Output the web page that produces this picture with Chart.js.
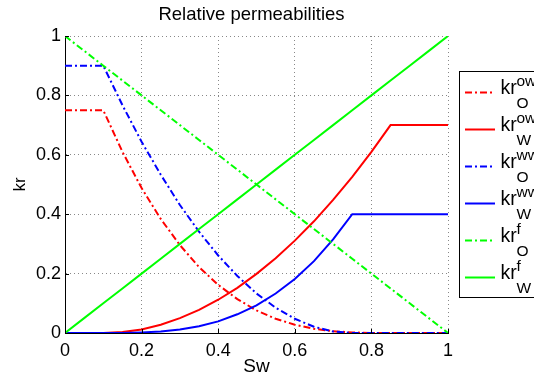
<!DOCTYPE html>
<html>
<head>
<meta charset="utf-8">
<script src="https://cdn.jsdelivr.net/npm/chart.js@4/dist/chart.umd.min.js"></script>
<style>
  html, body { margin: 0; padding: 0; background: #fff; }
  #wrap { width: 534px; height: 381px; }
</style>
</head>
<body>
<div id="wrap"><canvas id="relperm"></canvas></div>
<script>
// water saturation samples
const sw = [0, 0.05, 0.1, 0.15, 0.2, 0.25, 0.3, 0.35, 0.4, 0.45, 0.5,
            0.55, 0.6, 0.65, 0.7, 0.75, 0.8, 0.85, 0.9, 0.95, 1];

// oil-wet
const kroOW = [0.75, 0.75, 0.75, 0.61, 0.488, 0.384, 0.296, 0.222, 0.162, 0.114, 0.076,
               0.048, 0.028, 0.014, 0.006, 0.002, 0, 0, 0, 0, 0];
const krwOW = [0, 0, 0, 0.003, 0.012, 0.028, 0.05, 0.078, 0.112, 0.152, 0.199,
               0.252, 0.311, 0.376, 0.448, 0.526, 0.61, 0.7, 0.7, 0.7, 0.7];
// water-wet
const kroWW = [0.9, 0.9, 0.9, 0.767, 0.644, 0.533, 0.431, 0.341, 0.261, 0.192, 0.133,
               0.085, 0.048, 0.021, 0.005, 0, 0, 0, 0, 0, 0];
const krwWW = [0, 0, 0, 0, 0.002, 0.005, 0.012, 0.023, 0.039, 0.063, 0.093,
               0.133, 0.182, 0.242, 0.315, 0.4, 0.4, 0.4, 0.4, 0.4, 0.4];
// fracture
const kroF = [1, 0.95, 0.9, 0.85, 0.8, 0.75, 0.7, 0.65, 0.6, 0.55, 0.5,
              0.45, 0.4, 0.35, 0.3, 0.25, 0.2, 0.15, 0.1, 0.05, 0];
const krwF = [0, 0.05, 0.1, 0.15, 0.2, 0.25, 0.3, 0.35, 0.4, 0.45, 0.5,
              0.55, 0.6, 0.65, 0.7, 0.75, 0.8, 0.85, 0.9, 0.95, 1];

const legendSup = ['ow', 'ow', 'ww', 'ww', 'f', 'f'];
const legendSub = ['O', 'W', 'O', 'W', 'O', 'W'];
const axisTicks = [0, 0.2, 0.4, 0.6, 0.8, 1];
const chartTitle = 'Relative permeabilities';

const FONT = '"Liberation Sans", Arial, Helvetica, sans-serif';
const dashDot = [7, 3, 2, 3];

Chart.defaults.font.family = FONT;
Chart.defaults.color = '#000';

function pts(ys) {
    return sw.map((x, i) => ({ x: x, y: ys[i] }));
}

function mkSet(label, ys, color, dash) {
    return {
        label: label,
        data: pts(ys),
        borderColor: color,
        backgroundColor: color,
        borderWidth: 2,
        borderDash: dash,
        pointRadius: 0,
        fill: false,
        tension: 0
    };
}

const sets = [
    mkSet('kr_O^ow', kroOW, '#ff0000', dashDot),
    mkSet('kr_W^ow', krwOW, '#ff0000', []),
    mkSet('kr_O^ww', kroWW, '#0000ff', dashDot),
    mkSet('kr_W^ww', krwWW, '#0000ff', []),
    mkSet('kr_O^f', kroF, '#00ff00', dashDot),
    mkSet('kr_W^f', krwF, '#00ff00', [])
];
// matlab draws later lines on top
sets.forEach((s, i) => { s.order = sets.length - i; });

const fmtTick = (v) => String(+v.toFixed(2));

// title over the axes, legend with super/subscripts, small inward ticks like matlab
const texLegend = {
    id: 'texLegend',
    afterDraw(chart) {
        const ctx = chart.ctx;
        const area = chart.chartArea;
        const xs = chart.scales.x, ys = chart.scales.y;
        ctx.save();

        // title
        ctx.fillStyle = '#000';
        ctx.font = '18.5px ' + FONT;
        ctx.textAlign = 'center';
        ctx.textBaseline = 'alphabetic';
        ctx.fillText(chartTitle, (area.left + area.right) / 2 - 5, 19.5);

        // inward ticks
        ctx.strokeStyle = '#000';
        ctx.lineWidth = 1;
        ctx.setLineDash([]);
        axisTicks.forEach(v => {
            const px = Math.round(xs.getPixelForValue(v)) + 0.5;
            ctx.beginPath();
            ctx.moveTo(px, area.bottom);
            ctx.lineTo(px, area.bottom - 4);
            ctx.stroke();
            const py = Math.round(ys.getPixelForValue(v)) + 0.5;
            ctx.beginPath();
            ctx.moveTo(area.left, py);
            ctx.lineTo(area.left + 4, py);
            ctx.stroke();
        });

        // legend box
        const bx = area.right + 11.5, by = 71.5;
        ctx.fillStyle = '#fff';
        ctx.fillRect(bx, by, 90, 226);
        ctx.strokeRect(bx, by, 90, 226);

        chart.data.datasets.forEach((ds, i) => {
            const y = 92.5 + i * 37;
            ctx.strokeStyle = ds.borderColor;
            ctx.lineWidth = 2;
            ctx.setLineDash(ds.borderDash);
            ctx.beginPath();
            ctx.moveTo(bx + 5.5, y);
            ctx.lineTo(bx + 35.5, y);
            ctx.stroke();
            ctx.setLineDash([]);

            ctx.fillStyle = '#000';
            ctx.textAlign = 'left';
            ctx.font = '19.5px ' + FONT;
            ctx.fillText('kr', bx + 41, y + 1.5);
            ctx.font = '15.5px ' + FONT;
            ctx.fillText(legendSup[i], bx + 57, y - 6.5);
            ctx.fillText(legendSub[i], bx + 57, y + 15);
        });
        ctx.restore();
    }
};

const ctx = document.getElementById('relperm').getContext('2d');
const relperm = new Chart(ctx, {
    type: 'line',
    data: { datasets: sets },
    options: {
        responsive: true,
        maintainAspectRatio: false,
        animation: false,
        layout: {
            padding: { left: 0, right: 86, top: 36, bottom: 0 }
        },
        plugins: {
            legend: { display: false },
            tooltip: { enabled: false },
            title: { display: false }
        },
        scales: {
            x: {
                type: 'linear',
                min: 0,
                max: 1,
                afterFit: (s) => { s.height = 48; },
                ticks: {
                    stepSize: 0.2,
                    color: '#000',
                    font: { size: 18 },
                    padding: 7,
                    maxRotation: 0,
                    callback: fmtTick
                },
                grid: {
                    color: '#888',
                    drawTicks: false
                },
                border: { display: true, color: '#000', width: 1, dash: [1, 3] },
                title: {
                    display: true,
                    text: 'Sw',
                    color: '#000',
                    font: { size: 19 },
                    padding: { top: 0, bottom: 3 }
                }
            },
            y: {
                min: 0,
                max: 1,
                afterFit: (s) => { s.width = 65; },
                ticks: {
                    stepSize: 0.2,
                    color: '#000',
                    font: { size: 18 },
                    padding: 4,
                    callback: fmtTick
                },
                grid: {
                    color: '#888',
                    drawTicks: false
                },
                border: { display: true, color: '#000', width: 1, dash: [1, 3] },
                title: {
                    display: true,
                    text: 'kr',
                    color: '#000',
                    font: { size: 17 },
                    padding: { top: 10, bottom: 0 }
                }
            }
        }
    },
    plugins: [texLegend]
});
</script>
</body>
</html>
